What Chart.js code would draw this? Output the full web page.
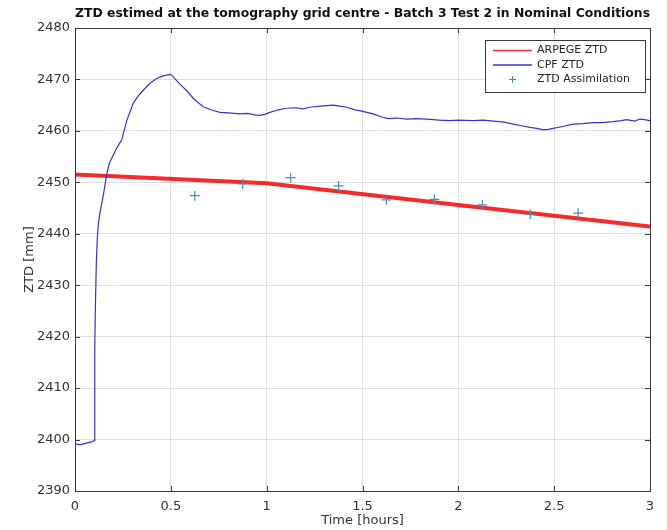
<!DOCTYPE html>
<html>
<head>
<meta charset="utf-8">
<script src="https://cdn.jsdelivr.net/npm/chart.js@4.4.0/dist/chart.umd.min.js"></script>
<style>
  html, body { margin: 0; padding: 0; background: #fff; }
  #wrap { width: 667px; height: 530px; }
</style>
</head>
<body>
<div id="wrap"><canvas id="myChart" width="667" height="530"></canvas></div>
<script>
// ARPEGE model ZTD (hours, mm)
var arpegeTime = [0, 1, 2, 3];
var arpegeZtd = [2451.5, 2449.8, 2445.6, 2441.4];

// CPF filtered ZTD (hours, mm)
var cpfTime = [0, 0.01, 0.02, 0.03, 0.05, 0.07, 0.09, 0.1, 0.102, 0.104, 0.107, 0.111, 0.116, 0.122, 0.13,
    0.15, 0.165, 0.18, 0.2, 0.22, 0.244, 0.27, 0.304, 0.33, 0.356, 0.39, 0.426, 0.46, 0.496,
    0.51, 0.522, 0.55, 0.583, 0.62, 0.669, 0.71, 0.756, 0.8, 0.861, 0.9, 0.94, 0.965, 0.99,
    1.017, 1.06, 1.104, 1.15, 1.19, 1.226, 1.28, 1.347, 1.38, 1.417, 1.461, 1.49, 1.556, 1.6,
    1.634, 1.68, 1.73, 1.78, 1.835, 1.9, 1.956, 2.0, 2.078, 2.13, 2.182, 2.24, 2.286, 2.33,
    2.374, 2.41, 2.443, 2.47, 2.495, 2.55, 2.599, 2.65, 2.704, 2.75, 2.808, 2.85, 2.878, 2.92,
    2.947, 2.97, 3.0];
var cpfZtd = [2399.3, 2399.1, 2399.0, 2399.0, 2399.2, 2399.4, 2399.6, 2399.8, 2408, 2418, 2427, 2434, 2439, 2442, 2444,
    2448.0, 2451.5, 2453.8, 2455.3, 2456.8, 2458.3, 2462.0, 2465.4, 2466.8, 2467.9, 2469.2, 2470.2, 2470.7, 2471.0,
    2470.7, 2470.1, 2469.0, 2467.8, 2466.2, 2464.7, 2464.1, 2463.6, 2463.5, 2463.3, 2463.4, 2463.1, 2463.0, 2463.2,
    2463.6, 2464.1, 2464.4, 2464.5, 2464.3, 2464.6, 2464.8, 2465.0, 2464.8, 2464.6, 2464.1, 2463.9, 2463.3, 2462.7,
    2462.4, 2462.5, 2462.3, 2462.4, 2462.3, 2462.1, 2462.0, 2462.1, 2462.0, 2462.1, 2461.9, 2461.7, 2461.3, 2461.0,
    2460.7, 2460.5, 2460.2, 2460.3, 2460.5, 2460.9, 2461.3, 2461.4, 2461.6, 2461.6, 2461.8, 2462.0, 2462.2, 2461.9,
    2462.3, 2462.2, 2462.0];

// ZTD assimilation points
var assimTime = [0.625, 0.875, 1.125, 1.375, 1.625, 1.875, 2.125, 2.375, 2.625];
var assimZtd = [2447.4, 2449.7, 2450.9, 2449.3, 2446.6, 2446.7, 2445.6, 2443.8, 2444.0];

var labels = ["ARPEGE ZTD", "CPF ZTD", "ZTD Assimilation"];
var titleText = "ZTD estimed at the tomography grid centre - Batch 3 Test 2 in Nominal Conditions";

function toXY(xs, ys){
    var out = [];
    for (var i = 0; i < xs.length; i++) out.push({x: xs[i], y: ys[i]});
    return out;
}

var FONT = "'DejaVu Sans', sans-serif";
var axisColor = "#3a3a3a";

// box round the axes + inward ticks (matlab look)
var boxPlugin = {
    id: "boxPlugin",
    afterDraw: function(chart){
        var c = chart.ctx, a = chart.chartArea;
        var xs = chart.scales.x, ys = chart.scales.y;
        c.save();
        c.strokeStyle = axisColor;
        c.lineWidth = 1;
        c.beginPath();
        xs.ticks.forEach(function(t){
            var px = Math.round(xs.getPixelForValue(t.value)) + 0.5;
            c.moveTo(px, a.bottom); c.lineTo(px, a.bottom - 5);
            c.moveTo(px, a.top); c.lineTo(px, a.top + 5);
        });
        ys.ticks.forEach(function(t){
            var py = Math.round(ys.getPixelForValue(t.value)) + 0.5;
            c.moveTo(a.left, py); c.lineTo(a.left + 5, py);
            c.moveTo(a.right, py); c.lineTo(a.right - 5, py);
        });
        c.stroke();
        c.strokeRect(Math.round(a.left) + 0.5, Math.round(a.top) + 0.5,
            Math.round(a.right - a.left), Math.round(a.bottom - a.top));
        c.restore();
    }
};

// legend box in the top right corner
var legendPlugin = {
    id: "legendBox",
    afterDraw: function(chart){
        var c = chart.ctx;
        var x0 = 485, y0 = 40, w = 160, h = 52;
        c.save();
        c.fillStyle = "#fff";
        c.fillRect(x0, y0, w, h);
        c.strokeStyle = axisColor;
        c.lineWidth = 1;
        c.strokeRect(x0 + 0.5, y0 + 0.5, w, h);
        c.font = "11px " + FONT;
        c.textBaseline = "middle";
        chart.data.datasets.forEach(function(ds, i){
            var yy = y0 + 10.5 + i * 14.5;
            if (ds.showLine === false) {
                c.strokeStyle = ds.pointBorderColor;
                c.beginPath();
                c.moveTo(512.5 - 3.5, yy); c.lineTo(512.5 + 3.5, yy);
                c.moveTo(512.5, yy - 3.5); c.lineTo(512.5, yy + 3.5);
                c.stroke();
            } else {
                c.strokeStyle = ds.borderColor;
                c.lineWidth = 1.5;
                c.beginPath();
                c.moveTo(493, yy); c.lineTo(532, yy);
                c.stroke();
                c.lineWidth = 1;
            }
            c.fillStyle = "#222";
            c.fillText(ds.label, 537, yy);
        });
        c.restore();
    }
};

var ctx = document.getElementById("myChart").getContext("2d");
var myChart = new Chart(ctx, {
    type: "line",
    data: {
        datasets: [
            {
                label: labels[0],
                data: toXY(arpegeTime, arpegeZtd),
                borderColor: "#f52a2a",
                borderWidth: 4,
                pointRadius: 0,
                tension: 0,
                order: 3
            },
            {
                label: labels[1],
                data: toXY(cpfTime, cpfZtd),
                borderColor: "#3434cc",
                borderWidth: 1.2,
                pointRadius: 0,
                tension: 0,
                order: 2
            },
            {
                label: labels[2],
                data: toXY(assimTime, assimZtd),
                showLine: false,
                pointStyle: "cross",
                pointRadius: 5,
                pointBorderWidth: 1.2,
                pointBorderColor: "#4a8fa8",
                pointBackgroundColor: "#4a8fa8",
                borderColor: "#4a8fa8",
                order: 1
            }
        ]
    },
    options: {
        responsive: false,
        animation: false,
        layout: { padding: { right: 17 } },
        plugins: {
            legend: { display: false },
            tooltip: { enabled: false },
            title: {
                display: true,
                text: titleText,
                fullSize: false,
                color: "#111",
                font: { family: FONT, size: 13, weight: "bold" },
                padding: { top: 6, bottom: 6.4 }
            }
        },
        scales: {
            x: {
                type: "linear",
                min: 0,
                max: 3,
                ticks: {
                    stepSize: 0.5,
                    color: "#333",
                    padding: 8,
                    font: { family: FONT, size: 13 },
                    callback: function(v){ return String(v); }
                },
                grid: { color: "#dedede", drawTicks: false },
                border: { display: false },
                title: {
                    display: true,
                    text: "Time [hours]",
                    color: "#333",
                    font: { family: FONT, size: 13 },
                    padding: { top: 0, bottom: 2 }
                },
                afterFit: function(scale){ scale.height = 39; }
            },
            y: {
                type: "linear",
                min: 2390,
                max: 2480,
                ticks: {
                    stepSize: 10,
                    color: "#333",
                    padding: 5,
                    font: { family: FONT, size: 13 },
                    callback: function(v){ return String(v); }
                },
                grid: { color: "#dedede", drawTicks: false },
                border: { display: false },
                title: {
                    display: true,
                    text: "ZTD [mm]",
                    color: "#333",
                    font: { family: FONT, size: 13 },
                    padding: { top: 22, bottom: 0 }
                },
                afterFit: function(scale){ scale.width = 75; }
            }
        }
    },
    plugins: [boxPlugin, legendPlugin]
});
</script>
</body>
</html>
